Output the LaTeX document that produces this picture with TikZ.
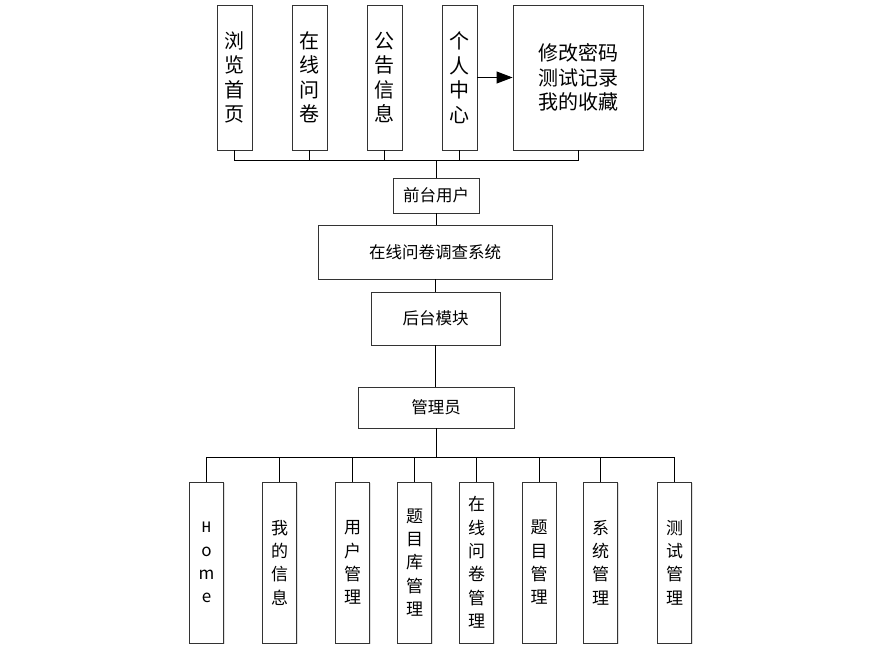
\documentclass[tikz,border=0pt]{standalone}
\usepackage{fontspec}
\setmainfont{Noto Sans CJK SC}
\newfontfamily\monof{Liberation Mono}
\usetikzlibrary{arrows.meta,shadows}
\begin{document}
\begin{tikzpicture}[x=1pt,y=-1pt,
  box/.style={draw=black!80, line width=0.9pt, fill=white, inner sep=0pt, align=center,
    drop shadow={shadow xshift=1.2pt, shadow yshift=-1.2pt, fill=black!12, opacity=1}},
  topbox/.style={box, minimum width=35pt, minimum height=145pt, font=\fontsize{20}{24.5}\selectfont},
  botbox/.style={box, minimum width=34pt, minimum height=161pt, font=\fontsize{17}{23.3}\selectfont},
  midbox/.style={box, font=\fontsize{16.5}{20}\selectfont},
  conn/.style={draw=black, line width=0.9pt}]
\useasboundingbox (0,0) rectangle (880,653);
% top row
\node[topbox] (t1) at (234.5,77.5) {浏\\览\\首\\页};
\node[topbox] (t2) at (309.5,77.5) {在\\线\\问\\卷};
\node[topbox] (t3) at (384.5,77.5) {公\\告\\信\\息};
\node[topbox] (t4) at (459.5,77.5) {个\\人\\中\\心};
\node[topbox, minimum width=130pt] (t5) at (578,77.5) {修改密码\\测试记录\\我的收藏};
\draw[conn, -{Triangle[length=16pt,width=12pt]}] (t4.east) -- (t5.west);
% middle
\node[midbox, minimum width=86pt, minimum height=35pt] (fu) at (436,195.5) {前台用户};
\node[midbox, minimum width=234pt, minimum height=54pt] (sys) at (435,252) {在线问卷调查系统};
\node[midbox, minimum width=129pt, minimum height=53pt] (hm) at (435.5,318.5) {后台模块};
\node[midbox, minimum width=156pt, minimum height=41pt] (gly) at (436,407.5) {管理员};
\coordinate (busT) at (436,160);
\foreach \n in {t1,t2,t3,t4,t5} \draw[conn] (\n.south) |- (busT);
\draw[conn] (busT) -- (fu.north);
\draw[conn] (fu.south) -- (fu.south |- sys.north);
\draw[conn] (sys.south) -- (sys.south |- hm.north);
\draw[conn] (hm.south) -- (hm.south |- gly.north);
% bottom row
\node[botbox] (m1) at (206.5,562.5) {\monof\fontsize{16}{24.5}\selectfont H\\o\\m\\e};
\node[botbox] (m2) at (279.5,562.5) {我\\的\\信\\息};
\node[botbox] (m3) at (352.5,562.5) {用\\户\\管\\理};
\node[botbox] (m4) at (414.5,562.5) {题\\目\\库\\管\\理};
\node[botbox] (m5) at (476.5,562.5) {在\\线\\问\\卷\\管\\理};
\node[botbox] (m6) at (539,562.5) {题\\目\\管\\理};
\node[botbox] (m7) at (600.5,562.5) {系\\统\\管\\理};
\node[botbox] (m8) at (674.5,562.5) {测\\试\\管\\理};
\coordinate (busB) at (436,457);
\draw[conn] (gly.south) -- (busB);
\foreach \n in {m1,m2,m3,m4,m5,m6,m7,m8} \draw[conn] (busB) -| (\n.north);
\end{tikzpicture}
\end{document}
